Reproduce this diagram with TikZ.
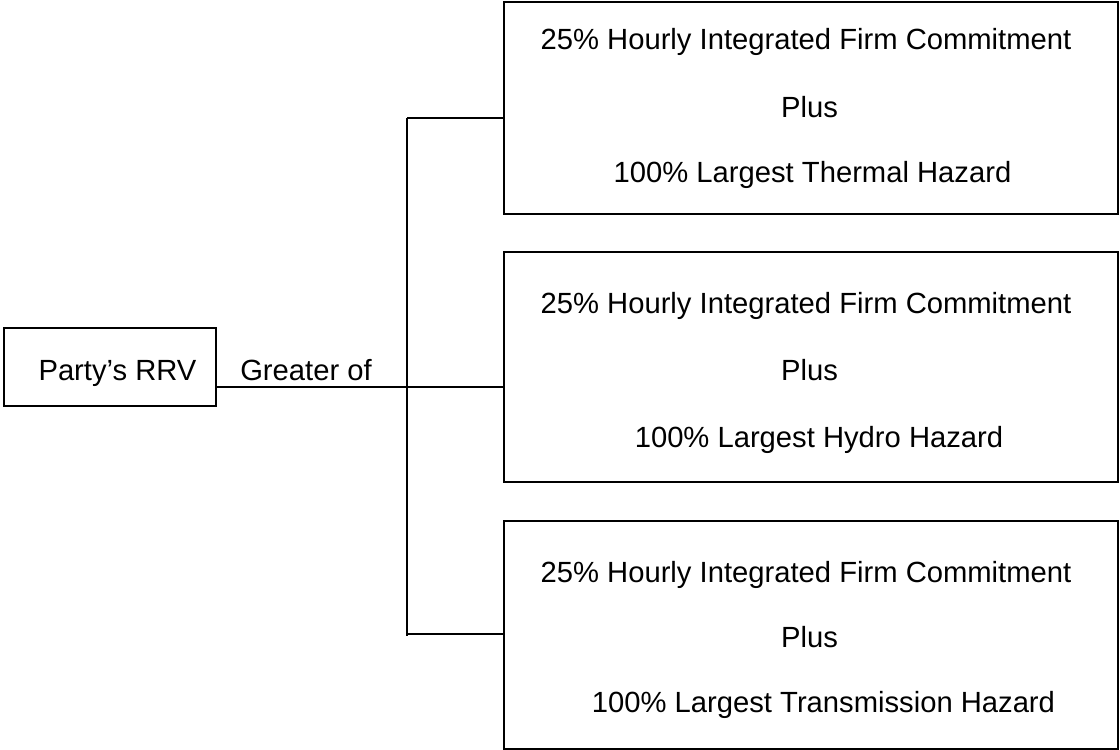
\documentclass[tikz,border=0pt]{standalone}
\usepackage{fontspec}
\setmainfont{Liberation Sans}
\begin{document}
\begin{tikzpicture}[x=1pt,y=-1pt,
  boxst/.style={draw=black,line width=1.5pt,rectangle,inner sep=0pt,outer sep=0pt},
  txt/.style={anchor=base,inner sep=0pt,font=\fontsize{29.2}{34}\selectfont},
  conn/.style={line width=1.5pt}]
\useasboundingbox (0,0) rectangle (1120,750);
% boxes
\node[boxst,minimum width=212pt,minimum height=78pt] (rrv) at (110,367) {};
\node[boxst,minimum width=614pt,minimum height=212pt] (top) at (811,108) {};
\node[boxst,minimum width=614pt,minimum height=230pt] (mid) at (811,367) {};
\node[boxst,minimum width=614pt,minimum height=228pt] (bot) at (811,635) {};
% texts
\node[txt] (t0) at (117.5,380) {Party’s RRV};
\node[txt] (g) at (306,380) {Greater of};
\node[txt] (t1a) at (806,49) {25\% Hourly Integrated Firm Commitment};
\node[txt] (t1b) at (809.5,117) {Plus};
\node[txt] (t1c) at (812.5,182) {100\% Largest Thermal Hazard};
\node[txt] (t2a) at (806,313) {25\% Hourly Integrated Firm Commitment};
\node[txt] (t2b) at (809.5,380) {Plus};
\node[txt] (t2c) at (819,447) {100\% Largest Hydro Hazard};
\node[txt] (t3a) at (806,582) {25\% Hourly Integrated Firm Commitment};
\node[txt] (t3b) at (809.5,647) {Plus};
\node[txt] (t3c) at (823.5,712) {100\% Largest Transmission Hazard};
% connectors
\coordinate (j) at (407,387);
\coordinate (jt) at (407,118);
\coordinate (jb) at (407,634);
\coordinate (jbe) at (407,636);
\draw[conn] (rrv.east |- j) -- (j);
\draw[conn] (jt) -- (jbe);
\draw[conn] (jt) -- (top.west |- jt);
\draw[conn] (j) -- (mid.west |- j);
\draw[conn] (jb) -- (bot.west |- jb);
\end{tikzpicture}
\end{document}
